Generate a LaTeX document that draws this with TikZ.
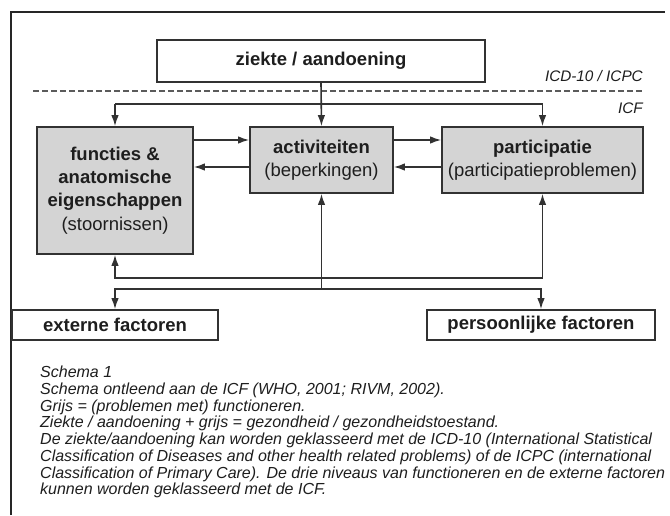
\documentclass[tikz,border=0pt]{standalone}
\usepackage{fontspec}
\setmainfont{Liberation Sans}
\usepackage{tikz}
\usetikzlibrary{arrows.meta}
\usepackage{xcolor}
\definecolor{boxgrey}{RGB}{212,212,212}
\definecolor{linegrey}{RGB}{50,50,50}
\definecolor{textgrey}{RGB}{30,30,30}
\tikzset{>={Latex[length=11pt,width=7.5pt]}}

\begin{document}
\begin{tikzpicture}[x=1pt, y=-1pt]
                % coordinates in pixels of the scan, y runs downwards
                \tikzstyle{every node}=[inner sep=0pt, text=textgrey]
                \tikzstyle{box}=[rectangle, draw=linegrey, line width=1.6pt, align=center,
                                 font=\fontsize{18.5}{23.3}\selectfont]
                \tikzstyle{grey box}=[box, fill=boxgrey]
                \tikzstyle{conn}=[draw=linegrey, line width=1.6pt]
                \tikzstyle{level}=[font=\itshape\fontsize{15.3}{18}\selectfont, anchor=east]

                \useasboundingbox (0,0) rectangle (670,515);
                \draw[line width=2.5pt, black!85] (11,515) -- (11,12) -- (665,12);

                \node[box, minimum width=328pt, minimum height=42pt] (zk) at (321,61) {\textbf{ziekte / aandoening}};
                \node[level] (icd) at (643,76) {ICD-10 / ICPC};
                \draw[linegrey!80, line width=1.2pt, dash pattern=on 6pt off 3pt] (33,91) -- (643,91);
                \node[level] (icf) at (643,108) {ICF};

                \node[grey box, minimum width=156pt, minimum height=127pt] (fa) at (115,190.5)
                        {\textbf{functies \&}\\ \textbf{anatomische}\\ \textbf{eigenschappen}\\ (stoornissen)};
                \node[grey box, minimum width=143pt, minimum height=66pt] (act) at (321.5,160)
                        {\textbf{activiteiten}\\ (beperkingen)};
                \node[grey box, minimum width=201pt, minimum height=66pt] (par) at (542.5,160)
                        {\textbf{participatie}\\ (participatieproblemen)};

                \node[box, minimum width=206pt, minimum height=30pt] (ext) at (115,325) {\textbf{externe factoren}};
                \node[box, minimum width=228pt, minimum height=30pt] (pers) at (541,325) {\textbf{persoonlijke factoren}};

                % from ziekte / aandoening to the three levels
                \coordinate (split) at (321,104);
                \draw[conn, ->] (zk.south) -- (act.north);
                \draw[conn] (fa.north |- split) -- (par.north |- split);
                \draw[conn, ->] (fa.north |- split) -- (fa.north);
                \draw[conn, ->] (par.north |- split) -- (par.north);

                % between the levels
                \coordinate (hi) at (0,140);
                \coordinate (lo) at (0,167);
                \draw[conn, ->] (fa.east |- hi) -- (act.west |- hi);
                \draw[conn, ->] (act.east |- hi) -- (par.west |- hi);
                \draw[conn, ->] (act.west |- lo) -- (fa.east |- lo);
                \draw[conn, ->] (par.west |- lo) -- (act.east |- lo);

                % to the factors
                \coordinate (up) at (0,278);
                \coordinate (dn) at (0,289);
                \draw[conn, <->] (par.south) |- (fa.south |- up) -- (fa.south);
                \draw[conn, <->] (ext.north) |- (pers.north |- dn) -- (pers.north);
                \draw[conn, ->] (act.south |- dn) -- (act.south);

                \node[anchor=north west, align=left, font=\itshape\fontsize{16}{16.7}\selectfont] (caption) at (40,366)
                        {Schema 1\\
                         Schema ontleend aan de ICF (WHO, 2001; RIVM, 2002).\\
                         Grijs = (problemen met) functioneren.\\
                         Ziekte / aandoening + grijs = gezondheid / gezondheidstoestand.\\
                         De ziekte/aandoening kan worden geklasseerd met de ICD-10 (International Statistical\\
                         Classification of Diseases and other health related problems) of de ICPC (international\\
                         Classification of Primary Care). De drie niveaus van functioneren en de externe factoren\\
                         kunnen worden geklasseerd met de ICF.};
        \end{tikzpicture}
\end{document}
